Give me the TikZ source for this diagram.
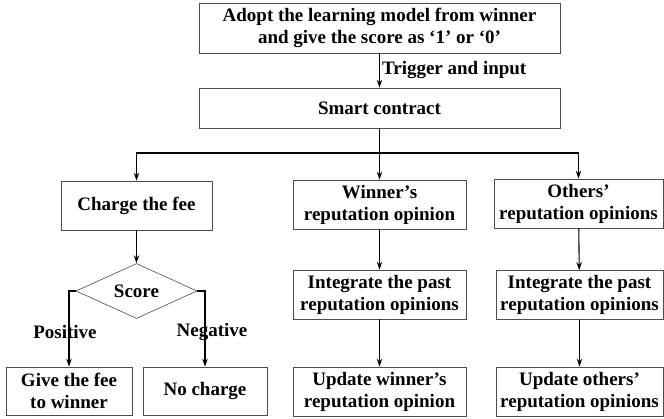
\documentclass[tikz,border=0pt]{standalone}
\usepackage{fontspec}
\setmainfont{Liberation Serif}
\usetikzlibrary{shapes,arrows.meta}

\begin{document}
\begin{tikzpicture}[x=1pt, y=1pt, >={Stealth[length=8pt,width=5.5pt]}]

  \bfseries
  \fontsize{19}{22}\selectfont

  \tikzset{blk/.style={draw=black!70, line width=0.7pt, align=center, inner sep=1pt, minimum height=49pt}}
  \tikzset{arr/.style={->, line width=1.1pt}}

  \useasboundingbox (0,0) rectangle (664,419);

  \node[blk, minimum width=361pt, minimum height=50pt] (adopt) at (379.5,391) {Adopt the learning model from winner\\and give the score as ‘1’ or ‘0’};
  \node[blk, minimum width=361pt, minimum height=40pt] (smart) at (379.5,311) {Smart contract};

  \node[blk, minimum width=151pt] (charge) at (136.5,213.5) {Charge the fee};
  \node[blk, minimum width=173pt] (winner) at (379.5,214.5) {Winner’s\\reputation opinion};
  \node[blk, minimum width=169pt] (others) at (578.5,215.5) {Others’\\reputation opinions};

  \node[draw=black!70, line width=0.6pt, diamond, aspect=2.2, inner sep=0pt,
        minimum width=121pt, minimum height=55pt] (score) at (136.5,128) {Score};

  \node[blk, minimum width=173pt] (intw) at (379.5,124.5) {Integrate the past\\reputation opinions};
  \node[blk, minimum width=167pt] (into) at (579.5,124) {Integrate the past\\reputation opinions};

  \node[blk, minimum width=126pt, minimum height=48pt] (give) at (69,28) {Give the fee\\to winner};
  \node[blk, minimum width=124pt, minimum height=48pt] (nocharge) at (205,28) {No charge};
  \node[blk, minimum width=173pt] (updw) at (379.5,27.5) {Update winner’s\\reputation opinion};
  \node[blk, minimum width=167pt] (updo) at (579.5,27.5) {Update others’\\reputation opinions};

  \coordinate (split) at (379.5,266);

  \draw[arr] (adopt) -- node[right, inner sep=2pt] (trig) {Trigger and input} (smart); %% adopt->smart
  \draw[line width=1.1pt] (smart) -- (split);
  \draw[arr] (split) -| (charge);
  \draw[arr] (split) -- (winner);
  \draw[arr] (split) -| (others);

  \draw[arr] (charge) -- (score);
  \draw[arr] (score.west) -| node[pos=0.77, xshift=-4pt] (lpos) {Positive} (give); %% yes
  \draw[arr] (score.east) -| node[pos=0.77, xshift=7pt] (lneg) {Negative} (nocharge); %% no

  \draw[arr] (winner) -- (intw);
  \draw[arr] (intw) -- (updw);
  \draw[arr] (others) -- (into);
  \draw[arr] (into) -- (updo);
\end{tikzpicture}
\end{document}
